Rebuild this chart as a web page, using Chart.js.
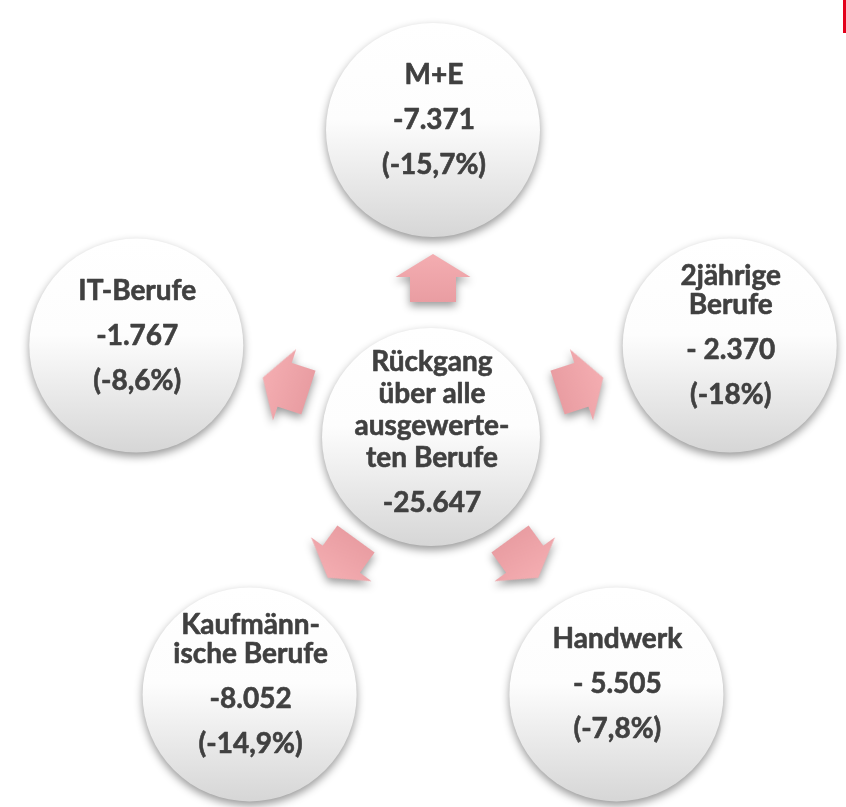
<!DOCTYPE html>
<html><head><meta charset="utf-8">
<script src="https://cdn.jsdelivr.net/npm/chart.js@4"></script>
<style>html,body{margin:0;padding:0;background:#fff;overflow:hidden}</style>
</head><body>
<canvas id="c" width="846" height="807"></canvas>
<script>
// ---- data ----
const categories = ['M+E', '2jährige\nBerufe', 'Handwerk', 'Kaufmänn-\nische Berufe', 'IT-Berufe'];
const changeLabels = ['-7.371', '- 2.370', '- 5.505', '-8.052', '-1.767'];
const shareLabels = ['(-15,7%)', '(-18%)', '(-7,8%)', '(-14,9%)', '(-8,6%)'];
const totalCategory = 'Rückgang\nüber alle\nausgewerte-\nten Berufe';
const totalLabel = '-25.647';

// ---- layout (not data) ----
const HUB = {x: 431, y: 437, r: 109};
const RING = {x: 433, y: 442, R: 312, r: 107};
const ARROWS = {x: 433, y: 433, R: 155};
const STEP = 72;
const FONT = 'bold 28px Lato';
const TEXT_COLOR = '#404040';

const nodePoints = categories.map((c, i) => {
  const a = i * STEP * Math.PI / 180;
  return {x: RING.x + RING.R * Math.sin(a), y: RING.y - RING.R * Math.cos(a), r: RING.r};
});
nodePoints.push({x: HUB.x, y: HUB.y, r: HUB.r});

const arrowPoints = categories.map((c, i) => {
  const a = i * STEP * Math.PI / 180;
  return {x: ARROWS.x + ARROWS.R * Math.sin(a), y: ARROWS.y - ARROWS.R * Math.cos(a)};
});

// arrow glyph (pointing up) used as point style
const arrowImg = document.createElement('canvas');
arrowImg.width = 80; arrowImg.height = 54;
(function () {
  const g = arrowImg.getContext('2d');
  const cx = 40, cy = 27;
  g.beginPath();
  g.moveTo(cx, cy - 24);
  g.lineTo(cx + 37.5, cy - 1);
  g.lineTo(cx + 23, cy - 1);
  g.lineTo(cx + 23, cy + 24);
  g.lineTo(cx - 23, cy + 24);
  g.lineTo(cx - 23, cy - 1);
  g.lineTo(cx - 37.5, cy - 1);
  g.closePath();
  const gr = g.createLinearGradient(0, cy - 24, 0, cy + 24);
  gr.addColorStop(0, '#f4adb1');
  gr.addColorStop(1, '#e99da2');
  g.fillStyle = gr;
  g.fill();
})();

const shadowPlugin = {
  id: 'shadow',
  beforeDatasetDraw(chart, args) {
    const c = chart.ctx;
    if (args.index === 0) {
      args.meta.data.forEach(el => {
        const r = el.options.radius;
        if (!isFinite(el.y) || !isFinite(r)) return;
        const g = c.createLinearGradient(0, el.y - r, 0, el.y + r);
        g.addColorStop(0, '#ffffff');
        g.addColorStop(0.45, '#fdfdfd');
        g.addColorStop(1, '#d6d6d6');
        el.options.backgroundColor = g;
      });
    }
    c.save();
    c.shadowColor = 'rgba(0,0,0,0.4)';
    c.shadowBlur = 9;
    c.shadowOffsetX = 0;
    c.shadowOffsetY = 4;
  },
  afterDatasetDraw(chart) { chart.ctx.restore(); }
};

const textPlugin = {
  id: 'nodeText',
  beforeDraw(chart) {
    const c = chart.ctx;
    c.save();
    c.fillStyle = '#e3001b';
    c.fillRect(843, 0, 3, 33);
    c.restore();
  },
  afterDatasetsDraw(chart) {
    const c = chart.ctx;
    const meta = chart.getDatasetMeta(0);
    c.save();
    c.font = FONT;
    c.fillStyle = TEXT_COLOR;
    c.strokeStyle = TEXT_COLOR;
    c.lineWidth = 0.6;
    c.lineJoin = 'round';
    c.textAlign = 'center';
    c.textBaseline = 'middle';
    meta.data.forEach((el, i) => {
      let blocks, lineStep, shift;
      if (i < categories.length) {
        blocks = [categories[i].split('\n'), [changeLabels[i]], [shareLabels[i]]];
        lineStep = 28.5; shift = 10;
      } else {
        blocks = [totalCategory.split('\n'), [totalLabel]];
        lineStep = 32; shift = 5;
      }
      const ys = []; const lines = [];
      let y = 0;
      blocks.forEach((b, bi) => {
        if (bi > 0) y += 45;
        b.forEach((l, li) => { if (li > 0) y += lineStep; ys.push(y); lines.push(l); });
      });
      const off = el.y - shift - y / 2;
      lines.forEach((l, k) => {
        c.fillText(l, el.x + 1, off + ys[k]);
        c.strokeText(l, el.x + 1, off + ys[k]);
      });
    });
    c.restore();
  }
};

new Chart(document.getElementById('c'), {
  data: {
    datasets: [
      {
        type: 'bubble',
        data: nodePoints,
        clip: false,
        borderWidth: 0,
        backgroundColor: '#ffffff',
        order: 1
      },
      {
        type: 'scatter',
        data: arrowPoints,
        clip: false,
        pointStyle: arrowImg,
        pointRadius: 30,
        rotation: (ctx) => (ctx.dataIndex || 0) * STEP,
        order: 2
      }
    ]
  },
  options: {
    responsive: false,
    animation: false,
    devicePixelRatio: 1,
    events: [],
    layout: {padding: 0, autoPadding: false},
    plugins: {legend: {display: false}, tooltip: {enabled: false}},
    scales: {
      x: {type: 'linear', min: 0, max: 846, display: false},
      y: {type: 'linear', min: 0, max: 807, reverse: true, display: false}
    }
  },
  plugins: [shadowPlugin, textPlugin]
});
</script>
</body></html>
